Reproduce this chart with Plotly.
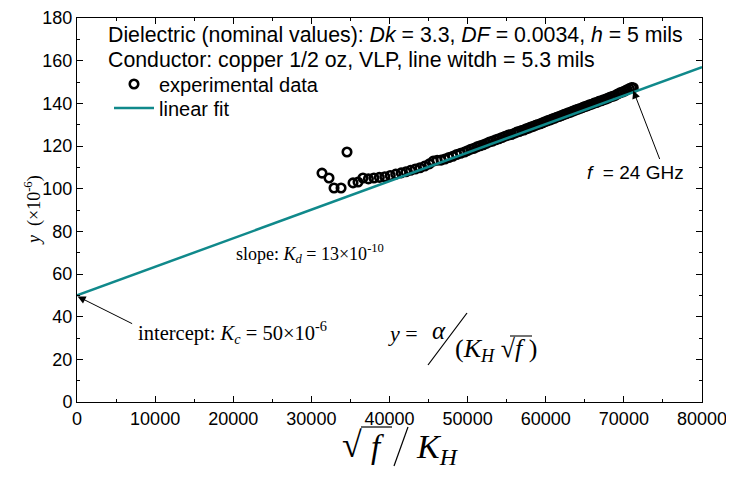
import plotly.graph_objects as go

# ---- data ----
exp_x = [31360, 32256, 32900, 33800, 34560, 35330, 35970, 36600,
         37300, 38000, 38700, 39400, 40100, 40800, 41500, 42100, 42700, 43300,
         43900, 44500, 45100, 45600, 46100, 46600, 47100, 47600, 48100, 48600,
         49100, 49600, 50000, 50400, 50800, 51200, 51600, 52000, 52400, 52800,
         53200, 53600, 54000, 54400, 54800, 55200, 55600, 56000, 56300, 56600,
         56900, 57200, 57500, 57800, 58100, 58400, 58700, 59000, 59300, 59600,
         59900, 60200, 60500, 60800, 61100, 61400, 61700, 62000, 62300, 62600,
         62900, 63200, 63500, 63800, 64100, 64400, 64700, 65000, 65300, 65600,
         65900, 66200, 66500, 66800, 67100, 67400, 67700, 68000, 68300, 68600,
         68900, 69200, 69500, 69800, 70100, 70400, 70700, 71000, 71200]
exp_y = [107.3, 105.0, 100.3, 100.3, 117.2, 102.7, 103.1, 105.0,
         104.6, 105.0, 105.3, 105.6, 106.2, 106.8, 107.4, 107.9, 108.6, 109.2,
         109.8, 110.6, 111.6, 112.9, 113.3, 113.4, 113.9, 114.6, 115.2, 116.0,
         116.6, 117.2, 117.8, 118.5, 118.9, 119.6, 120.1, 120.6, 121.2, 121.9,
         122.3, 122.9, 123.4, 124.0, 124.6, 125.1, 125.4, 126.0, 126.5, 126.8,
         127.3, 127.5, 128.1, 128.4, 128.9, 129.2, 129.7, 130.1, 130.4, 130.9,
         131.4, 131.8, 132.2, 132.6, 133.0, 133.5, 133.8, 134.3, 134.7, 135.1,
         135.6, 135.9, 136.4, 136.8, 137.2, 137.6, 138.0, 138.5, 138.8, 139.3,
         139.6, 140.1, 140.4, 140.9, 141.2, 141.7, 142.0, 142.5, 143.0, 143.3,
         143.7, 144.4, 144.9, 145.3, 145.8, 146.4, 146.9, 147.4, 147.3]
fit_x = [0, 80000]
fit_y = [50, 157]

x_ticks = [0, 10000, 20000, 30000, 40000, 50000, 60000, 70000, 80000]
y_ticks = [0, 20, 40, 60, 80, 100, 120, 140, 160, 180]

# ---- geometry helpers (reference pixel -> paper) ----
OFF = 8  # default body margin of the html page
L, R, T, B = 77, 702, 18, 402
def px(x):
    return (x - L) / (R - L)
def py(y):
    return (B - y) / (B - T)

TEAL = "#10898B"
SANS = "Liberation Sans, Arial, sans-serif"
SERIF = "Liberation Serif, Times New Roman, serif"

fig = go.Figure()
fig.add_trace(go.Scatter(
    x=exp_x, y=exp_y, mode="markers", name="experimental data", legend="legend",
    marker=dict(symbol="circle-open", size=8.5, color="black", line=dict(width=2.6, color="black")),
))
fig.add_trace(go.Scatter(
    x=fit_x, y=fit_y, mode="lines", name="linear fit", legend="legend2",
    line=dict(color=TEAL, width=2.5),
))

ann = []
def txt(x, y, s, size=17, font=SANS, xanchor="left", yanchor="middle"):
    ann.append(dict(x=px(x), y=py(y), xref="paper", yref="paper", text=s, showarrow=False,
                    xanchor=xanchor, yanchor=yanchor, font=dict(family=font, size=size, color="black")))

txt(106, 35, "Dielectric (nominal values): <i>Dk</i> = 3.3, <i>DF</i> = 0.0034, <i>h</i> = 5 mils", size=21.3)
txt(106, 60, "Conductor: copper 1/2 oz, VLP, line witdh = 5.3 mils", size=21.3)
txt(234, 254, "slope: <i>K</i><sub><i>d</i></sub> = 13×10<sup>-10</sup>", size=18, font=SERIF)
txt(136, 332, "intercept: <i>K</i><sub><i>c</i></sub> = 50×10<sup>-6</sup>", size=20.5, font=SERIF)
txt(585, 172, "<i>f</i>  = 24 GHz", size=19)

# formula y = alpha / (K_H sqrt f)
txt(386, 333, "<i>y</i> =", size=22, font=SERIF)
txt(439, 330, "<i>α</i>", size=25, font=SERIF, xanchor="center")
txt(453, 350, "(<i>K</i><sub><i>H</i></sub> √<i>f</i> )", size=26, font=SERIF)

# arrows (offsets in pixels relative to the head)
ann.append(dict(x=80, y=49.5, xref="x", yref="y", ax=137 - 81, ay=325 - 297,
                showarrow=True, arrowhead=2, arrowsize=1.6, arrowwidth=1, arrowcolor="black", text=""))
ann.append(dict(x=71200, y=146.0, xref="x", yref="y", ax=660 - 633, ay=160 - 90,
                showarrow=True, arrowhead=2, arrowsize=1.6, arrowwidth=1, arrowcolor="black", text=""))

# axis titles
ann.append(dict(x=px(33), y=py(210), xref="paper", yref="paper", text="<i>y</i>  (×10<sup>-6</sup>)",
                xanchor="center", yanchor="middle",
                showarrow=False, textangle=-90, font=dict(family=SERIF, size=18, color="black")))
txt(352, 445, "√", size=36, font=SERIF, xanchor="center")
txt(377, 447, "<i>f</i>", size=33, font=SERIF, xanchor="center")
txt(437, 449, "<i>K</i><sub><i>H</i></sub>", size=34, font=SERIF, xanchor="center")

shapes = [
    # big slash of the formula
    dict(type="line", xref="paper", yref="paper", x0=px(428), y0=py(365), x1=px(467), y1=py(313),
         line=dict(color="black", width=1.2)),
    # vinculum of sqrt in formula
    dict(type="line", xref="paper", yref="paper", x0=px(510), y0=py(336), x1=px(532), y1=py(336),
         line=dict(color="black", width=1.1)),
    # x-axis title: vinculum and slash
    dict(type="line", xref="paper", yref="paper", x0=px(361), y0=py(427), x1=px(392), y1=py(427),
         line=dict(color="black", width=1.2)),
    dict(type="line", xref="paper", yref="paper", x0=px(394), y0=py(466), x1=px(408), y1=py(427),
         line=dict(color="black", width=1.2)),
]

leg = dict(xanchor="left", yanchor="middle", bgcolor="rgba(0,0,0,0)",
           font=dict(family=SANS, size=20), itemwidth=40)
fig.update_layout(
    width=734 - OFF, height=477 - OFF,
    margin=dict(l=L - OFF, r=734 - R, t=T - OFF, b=477 - B, autoexpand=False),
    paper_bgcolor="white", plot_bgcolor="white",
    font=dict(family=SANS, size=18, color="black"),
    showlegend=True,
    legend=dict(x=px(109), y=py(84), **leg),
    legend2=dict(x=px(109), y=py(108), **leg),
    annotations=ann, shapes=shapes,
)
fig.update_xaxes(range=[0, 80000], tickvals=x_ticks, ticktext=[str(v) for v in x_ticks],
                 automargin=False,
                 showgrid=False, zeroline=False, showline=True, linecolor="black", linewidth=1,
                 mirror="ticks", ticks="inside", ticklen=6, tickcolor="black",
                 minor=dict(dtick=5000, ticks="inside", ticklen=3, tickcolor="black"),
                 tickfont=dict(size=18))
fig.update_yaxes(range=[0, 180], tickvals=y_ticks, automargin=False,
                 showgrid=False, zeroline=False, showline=True, linecolor="black", linewidth=1,
                 mirror="ticks", ticks="inside", ticklen=6, tickcolor="black",
                 minor=dict(dtick=10, ticks="inside", ticklen=3, tickcolor="black"),
                 tickfont=dict(size=18))

fig.write_html("out.html")
